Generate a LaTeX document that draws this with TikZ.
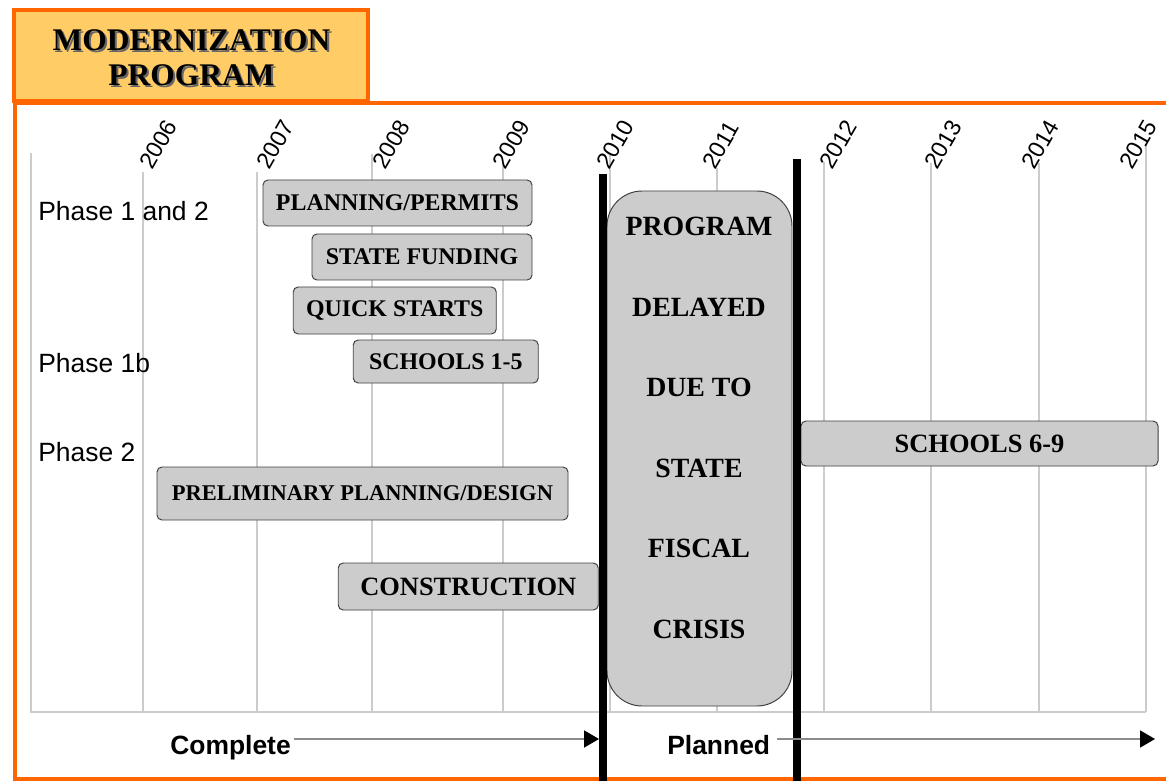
\documentclass[tikz,border=0pt]{standalone}
\usepackage{fontspec}
\setmainfont{Liberation Serif}
\setsansfont{Liberation Sans}
\usetikzlibrary{arrows.meta}
\definecolor{frameorange}{HTML}{FF6600}
\definecolor{titlefill}{HTML}{FFCC66}
\definecolor{barfill}{HTML}{CCCCCC}
\definecolor{gridgray}{HTML}{CCCCCC}
\tikzset{
    frame/.style={draw=frameorange, line width=3pt},
    gridline/.style={draw=gridgray, line width=1.9pt},
    divider/.style={draw=black, line width=5.7pt},
    bar/.style 2 args={draw=black!75, fill=barfill, line width=0.7pt, rounded corners=3.5pt,
        inner sep=0pt, minimum width=#1*0.025cm, minimum height=#2*0.025cm,
        font=\fontsize{17}{20}\selectfont\bfseries},
    bigbar/.style={font=\fontsize{18.8}{22}\selectfont\bfseries},
    phase/.style={anchor=base west, inner sep=0pt, font=\sffamily\fontsize{18.8}{22}\selectfont},
    year/.style={anchor=base west, inner sep=0pt, rotate=60, font=\sffamily\fontsize{16.5}{19}\selectfont},
    status/.style={anchor=base west, inner sep=0pt, font=\sffamily\bfseries\fontsize{18.8}{22}\selectfont},
    timearrow/.style={draw=black!45, line width=0.9pt, -{Triangle[length=10.5pt, width=12pt, color=black]}},
    titletxt/.style={align=center, inner sep=0pt, font=\fontsize{22.4}{25}\selectfont\bfseries}
}

\begin{document}
\begin{tikzpicture}[x=0.025cm, y=-0.025cm]
    \useasboundingbox (0,0) rectangle (1166,781);

    % outer frame
    \draw[frame] (1190,103) -- (15,103) -- (15,779) -- (1190,779);

    % year grid
    \draw[gridline] (31,153) -- (31,712) -- (1146,712);
    \foreach \yr/\gx/\gtop/\lx in {2006/143/172/152, 2007/257/172/269, 2008/372/154/385,
        2009/503/163/505, 2010/610/155/609, 2011/717/168/715, 2012/824/162/832,
        2013/931/163/937, 2014/1039/163/1034, 2015/1146/144/1132}{
        \draw[gridline] (\gx,\gtop) -- (\gx,712);
        \node[year] (y\yr) at (\lx,171) {\yr};
    }

    % phases
    \node[phase] (ph12) at (38,221) {Phase 1 and 2};
    \node[phase] (ph1b) at (38,372) {Phase 1b};
    \node[phase] (ph2) at (38,461) {Phase 2};

    % bars
    \node[bar={269}{46}] (plan) at (397.5,203) {PLANNING/PERMITS};
    \node[bar={220}{46}] (fund) at (422,257) {STATE FUNDING};
    \node[bar={203}{47}] (quick) at (394.75,310.5) {QUICK STARTS};
    \node[bar={185}{43}] (sch15) at (445.75,361.5) {SCHOOLS 1-5};
    \node[bar={411}{53}, font=\fontsize{16}{19}\selectfont\bfseries] (prelim) at (362.5,493.5) {PRELIMINARY PLANNING/DESIGN};
    \node[bar={260}{47}, bigbar] (constr) at (468.25,586.5) {CONSTRUCTION};
    \node[bar={357}{45}, bigbar] (sch69) at (979.5,443.5) {SCHOOLS 6-9};

    % delay block
    \node[bar={185}{515}, rounded corners=25pt] (delay) at (699.5,448.5) {};
    \node[align=center, inner sep=0pt, font=\fontsize{19.8}{57.3}\selectfont\bfseries] (delaytext) at (699,428)
        {PROGRAM\\DELAYED\\DUE TO\\STATE\\FISCAL\\CRISIS};

    \draw[divider] (603,174) -- (603,790);
    \draw[divider] (797,159) -- (797,790);

    % complete / planned
    \node[status] (complete) at (170,754) {Complete};
    \node[status] (planned) at (667,754) {Planned};
    \coordinate (cend) at (599,739);
    \coordinate (pend) at (1155,739);
    \draw[timearrow] (complete.east |- cend) ++(3,0) -- (cend);
    \draw[timearrow] (planned.east |- pend) ++(7,0) -- (pend);

    % title
    \draw[frame, line width=2.8pt, fill=titlefill] (14,10) rectangle (368,101);
    \node[titletxt, text=black!60] (titleshadow) at (193.5,59.5) {MODERNIZATION\\PROGRAM};
    \node[titletxt] (title) at (191.5,57.5) {MODERNIZATION\\PROGRAM};
\end{tikzpicture}
\end{document}
